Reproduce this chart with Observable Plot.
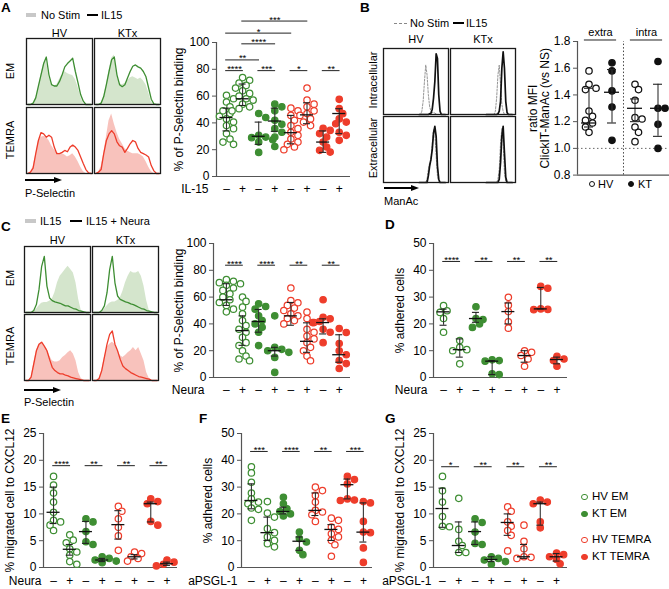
<!DOCTYPE html>
<html><head><meta charset="utf-8">
<script src="https://cdn.jsdelivr.net/npm/d3@7"></script>
<script src="https://cdn.jsdelivr.net/npm/@observablehq/plot@0.6"></script>
<style>
html,body{margin:0;padding:0;background:#fff;}
#fig{position:relative;width:669px;height:589px;overflow:hidden;font-family:"Liberation Sans",Arial,Helvetica,sans-serif;color:#000;background:#fff;}
.t{position:absolute;white-space:nowrap;line-height:1;}
</style></head><body><div id="fig"></div>
<script>
// ---------------- DATA ----------------
// Panel A scatter (% of P-Selectin binding), IL-15 -/+
const aHvEmMinus = [60.6, 58, 55.6, 52, 49, 47, 45, 43, 40.6, 38, 35.7, 32, 28, 25.7, 24];
const aHvEmPlus = [73.8, 71.8, 69.8, 68, 66, 64, 62, 60, 58, 57, 54, 52, 50.6, 49];
const aKtEmMinus = [47, 44, 30.7, 29.4, 29, 27.4, 25.7, 18];
const aKtEmPlus = [54, 52, 49, 42, 39, 35.7, 33, 29.4, 22.4];
const aHvTeMinus = [51, 49, 45.6, 42, 38, 35.7, 33, 30.7, 28, 25.7, 24, 22, 20];
const aHvTePlus = [66, 57, 54, 52, 49, 47, 45.6, 43, 40.6, 38];
const aKtTeMinus = [36, 34.4, 32, 29.4, 25.7, 22, 19.5, 18.2];
const aKtTePlus = [57.6, 50.6, 46.9, 43, 40.6, 39.4, 33, 30.7, 27];
const aCenter = [44, 58, 30, 41.4, 32.7, 46, 25.7, 47];
const aLo = [34, 53, 24, 33.7, 24.4, 39.4, 18, 32];
const aHi = [51, 69, 40.6, 51, 45.6, 55, 34, 50.6];
const aTicks = [0, 20, 40, 60, 80, 100];
const aSigns = ["–", "+", "–", "+", "–", "+", "–", "+"];
const aSigFrom = [0, 2, 4, 6, 0, 1, 0, 1];
const aSigTo = [1, 3, 5, 7, 2, 3, 4, 5];
const aSigStars = ["****", "***", "*", "**", "**", "****", "*", "***"];
const aSigLevel = [79, 79, 79, 79, 87, 99, 107, 116];

// Panel B scatter (ratio MFI)
const bHvExtra = [1.58, 1.48, 1.45, 1.44, 1.28, 1.24, 1.21, 1.19, 1.16, 1.12];
const bKtExtra = [1.64, 1.58, 1.43, 1.31, 1.06];
const bHvIntra = [1.48, 1.44, 1.36, 1.23, 1.22, 1.16, 1.12, 1.05];
const bKtIntra = [1.65, 1.30, 1.30, 1.18, 1.0];
const bCenter = [1.19, 1.42, 1.30, 1.30];
const bLo = [1.16, 1.19, 1.2, 1.09];
const bHi = [1.45, 1.59, 1.37, 1.48];
const bTicks = [0.8, 1.0, 1.2, 1.4, 1.6, 1.8];
const bGroupLabels = ["extra", "intra"];

// Panel C scatter, Neura -/+
const cHvEmIl = [73, 71.8, 70.8, 70, 68.8, 66.8, 65, 62.5, 60, 58, 56, 53.8, 51, 49];
const cHvEmNeu = [60, 56.8, 52.5, 47.5, 42.5, 38.8, 36, 33.8, 30, 26, 23.8, 20, 16, 13.8, 12.5];
const cKtEmIl = [55, 53, 51, 46, 42.5, 40, 37.5, 33.8, 23.8];
const cKtEmNeu = [46, 22.5, 21, 20, 18.8, 15, 3.8];
const cHvTeIl = [66.8, 57.5, 55.8, 53.8, 51.8, 50, 47.5, 46, 44, 42.5, 40];
const cHvTeNeu = [48.8, 44, 41, 36, 33.8, 31, 28.8, 26, 22.5, 20, 16, 12.5];
const cKtTeIl = [58, 45, 43.8, 41.8, 41, 36, 33.8, 26];
const cKtTeNeu = [36.6, 33.6, 25.4, 20, 17, 12.7, 10.4, 6.7];
const cCenter = [58, 35, 41.8, 20, 46, 27, 41, 17];
const cLo = [53.8, 24, 33.8, 16, 39, 18.8, 32.5, 11.4];
const cHi = [70, 46, 50.8, 22.5, 56, 40.8, 43.8, 31.9];
const cSigStars = ["****", "****", "**", "**"];

// Panel D (% adhered cells), Neura -/+
const dHvEmIl = [26.8, 24.9, 24.3, 22, 16.9];
const dHvEmNeu = [13.8, 11.3, 10.4, 10, 5.1];
const dKtEmIl = [26.4, 22, 21.6, 20, 18.7];
const dKtEmNeu = [6.6, 6.3, 6.1, 1.4, 1.1];
const dHvTeIl = [29.9, 27, 24.6, 20.8, 18.4];
const dHvTeNeu = [10, 9.4, 8.2, 6.9, 4.2];
const dKtTeIl = [34, 33.3, 25.6, 25.4, 25.3];
const dKtTeNeu = [7.9, 6.9, 6.3, 4.2];
const dCenter = [24.5, 10.4, 22, 6.1, 24.6, 8.2, 25.6, 6.7];
const dLo = [19.5, 7.6, 20.6, 1.1, 20, 5.7, 25.6, 5.1];
const dHi = [25.5, 14.4, 24.3, 6.3, 27.8, 10, 33.6, 7.6];
const dSigStars = ["****", "**", "**", "**"];

// Panel E (% migrated cell to CXCL12), Neura -/+
const eHvEmMinus = [17, 15.4, 13.9, 12.2, 10.3, 8.8, 8.5, 7.9, 6.9];
const eHvEmPlus = [6.1, 5.1, 4.6, 3.5, 2.9, 2.3, 1.1, 0.6];
const eKtEmMinus = [9.1, 8.5, 6.7, 4.8, 4.3];
const eKtEmPlus = [2, 1.7, 1.4, 1.2, 0.9];
const eHvTeMinus = [11.4, 10.5, 9.1, 7.5, 5.9, 3.2];
const eHvTePlus = [2.9, 2.6, 2, 1.7, 1.2];
const eKtTeMinus = [12.8, 12.3, 11.9, 8.6, 7.9];
const eKtTePlus = [1.4, 1, 0.6, 0.3];
const eCenter = [10.3, 3.4, 6.7, 1.4, 8, 2, 11.9, 0.7];
const eLo = [8.2, 2.3, 4.5, 1.1, 5.3, 1.6, 8.5, 0.4];
const eHi = [15, 4.3, 8.6, 1.7, 10.6, 2.4, 12.2, 1];
const eSigStars = ["****", "**", "**", "**"];

// Panel F (% adhered cells), aPSGL-1 -/+
const fHvEmMinus = [37.6, 35.3, 31.8, 27.8, 25.6, 24.4, 23.8, 22.2, 21.7, 17.6];
const fHvEmPlus = [24.6, 20.3, 18.8, 14.5, 13, 11.4, 10.1, 8.9, 7.7];
const fKtEmMinus = [26.2, 23.8, 21.9, 20.9, 20, 19.2];
const fKtEmPlus = [13.2, 10.8, 9.5, 6.4, 4.8];
const fHvTeMinus = [30, 28.7, 26.9, 24.4, 21.3, 20.7, 19.7, 17.2];
const fHvTePlus = [18.4, 17.6, 15.1, 14.2, 12.6, 11.4, 10.1, 8.5, 4.2];
const fKtTeMinus = [34, 32.8, 31.2, 25.6, 25.2, 25];
const fKtTePlus = [24.6, 24.1, 17.2, 13.2, 13, 7.3, 1.9];
const fCenter = [25, 13, 20.9, 9.8, 21.3, 14.2, 30.9, 13.2];
const fLo = [21.9, 10.1, 20, 6.4, 19.4, 10.1, 25.6, 9.5];
const fHi = [31.2, 18.8, 22.5, 11.4, 27.8, 16, 33, 24.1];
const fSigStars = ["***", "****", "**", "***"];

// Panel G (% migrated cell to CXCL12), aPSGL-1 -/+
const gHvEmMinus = [17, 14.3, 12.2, 9.5, 7.7, 7.6];
const gHvEmPlus = [12.9, 7.1, 4.9, 4.1, 2.8, 2.8];
const gKtEmMinus = [9.1, 8.4, 6.6, 4.5, 4.3];
const gKtEmPlus = [2, 1.7, 1.4, 1.1, 0.6];
const gHvTeMinus = [11.3, 10.5, 8.5, 7.7, 6.9, 6, 3.1];
const gHvTePlus = [7.9, 4.9, 3.5, 2, 1.9, 1.7];
const gKtTeMinus = [12.6, 12.2, 11.9, 8.5, 7.4];
const gKtTePlus = [2.7, 2.4, 2, 1.5, 0.7];
const gCenter = [11, 4.1, 6.7, 1.5, 8.4, 2, 11.9, 2];
const gLo = [7.5, 2.8, 4.3, 1.1, 6, 1.7, 7.9, 1.2];
const gHi = [14.8, 8.5, 8.5, 2, 10, 4.3, 12.2, 2.6];
const gSigStars = ["*", "**", "**", "**"];

const pairFrom = [0, 2, 4, 6];
const pairTo = [1, 3, 5, 7];

// Histograms (relative counts, 25 bins across the box) - panel A
const aHvEmNoStim = [0,0,0.02,0.1,0.25,0.45,0.62,0.67,0.42,0.3,0.28,0.3,0.38,0.45,0.5,0.47,0.45,0.44,0.38,0.27,0.12,0.02,0,0,0];
const aHvEmIL15   = [0,0,0.02,0.1,0.28,0.45,0.62,0.72,0.45,0.3,0.28,0.28,0.35,0.45,0.57,0.62,0.66,0.7,0.5,0.33,0.15,0.05,0,0,0];
const aKtEmNoStim = [0,0,0.02,0.12,0.3,0.5,0.7,0.75,0.45,0.32,0.3,0.32,0.36,0.4,0.42,0.4,0.38,0.4,0.36,0.3,0.18,0.04,0,0,0];
const aKtEmIL15   = [0,0,0.02,0.12,0.3,0.5,0.68,0.72,0.45,0.3,0.27,0.3,0.4,0.5,0.58,0.6,0.57,0.55,0.5,0.42,0.25,0.08,0.01,0,0];
const aHvTeNoStim = [0,0.02,0.1,0.28,0.48,0.55,0.56,0.55,0.5,0.42,0.36,0.32,0.3,0.3,0.28,0.25,0.27,0.3,0.25,0.18,0.1,0.03,0,0,0];
const aHvTeIL15   = [0,0.02,0.08,0.3,0.5,0.62,0.6,0.55,0.58,0.55,0.4,0.3,0.3,0.32,0.35,0.33,0.4,0.43,0.4,0.35,0.25,0.15,0.06,0.01,0];
const aKtTeNoStim = [0,0.02,0.1,0.3,0.55,0.8,0.9,0.75,0.62,0.52,0.45,0.38,0.34,0.32,0.3,0.3,0.3,0.28,0.25,0.18,0.1,0.03,0,0,0];
const aKtTeIL15   = [0,0.02,0.06,0.3,0.5,0.6,0.65,0.6,0.48,0.42,0.4,0.32,0.38,0.45,0.5,0.48,0.38,0.32,0.3,0.28,0.25,0.12,0.04,0,0];
// panel C
const cHvEmIL15  = [0,0,0,0.02,0.05,0.1,0.14,0.15,0.15,0.17,0.2,0.3,0.45,0.55,0.6,0.65,0.7,0.65,0.6,0.45,0.2,0.03,0,0,0];
const cHvEmNeura = [0,0,0,0.03,0.12,0.35,0.7,0.85,0.4,0.22,0.18,0.16,0.15,0.14,0.12,0.1,0.1,0.08,0.06,0.05,0.03,0.02,0.01,0,0];
const cKtEmIL15  = [0,0,0,0.02,0.05,0.1,0.14,0.16,0.16,0.18,0.22,0.32,0.45,0.55,0.62,0.6,0.6,0.62,0.55,0.4,0.18,0.03,0,0,0];
const cKtEmNeura = [0,0,0,0.03,0.1,0.3,0.65,0.85,0.45,0.25,0.2,0.18,0.16,0.15,0.13,0.12,0.1,0.08,0.06,0.05,0.03,0.02,0.01,0,0];
const cHvTeIL15  = [0,0,0.05,0.25,0.45,0.55,0.58,0.52,0.48,0.38,0.3,0.28,0.28,0.3,0.35,0.38,0.42,0.45,0.4,0.3,0.12,0.03,0,0,0];
const cHvTeNeura = [0,0,0.05,0.25,0.45,0.55,0.58,0.52,0.45,0.32,0.2,0.15,0.12,0.1,0.1,0.08,0.07,0.05,0.04,0.03,0.02,0.01,0,0,0];
const cKtTeIL15  = [0,0,0.03,0.15,0.35,0.5,0.55,0.58,0.55,0.45,0.38,0.35,0.38,0.42,0.45,0.5,0.45,0.5,0.4,0.3,0.12,0.03,0,0,0];
const cKtTeNeura = [0,0,0.03,0.15,0.35,0.55,0.7,0.75,0.55,0.45,0.32,0.22,0.18,0.15,0.12,0.1,0.08,0.06,0.05,0.04,0.03,0.02,0,0,0];
// panel B (ManAc), bins from 0.55 to 0.95 of the box
const bBins = [0.55,0.57,0.59,0.61,0.63,0.65,0.67,0.69,0.71,0.73,0.75,0.77,0.79,0.81,0.83,0.85,0.87,0.89,0.91,0.93,0.95];
const bHvIntraNS = [0,0,0.05,0.2,0.5,0.75,0.6,0.3,0.12,0.05,0.03,0.03,0.02,0.01,0,0,0,0,0,0,0];
const bHvIntraIL = [0,0,0,0,0,0,0,0,0.01,0.02,0.08,0.25,0.5,0.92,0.85,0.3,0.05,0,0,0,0];
const bKtIntraNS = [0,0,0,0,0,0,0,0.05,0.25,0.6,0.75,0.45,0.15,0.05,0,0,0,0,0,0,0];
const bKtIntraIL = [0,0,0,0,0,0,0,0,0,0.01,0.05,0.2,0.7,0.95,0.7,0.2,0.03,0,0,0,0];
const bHvExtraNS = [0,0,0,0,0,0,0.05,0.2,0.3,0.33,0.6,0.8,0.75,0.4,0.1,0.02,0,0,0,0,0];
const bHvExtraIL = [0,0,0,0,0,0,0,0.1,0.25,0.35,0.5,0.75,0.85,0.7,0.25,0.05,0,0,0,0,0];
const bKtExtraNS = [0,0,0,0,0,0,0,0,0,0.05,0.2,0.6,0.82,0.6,0.15,0.02,0,0,0,0,0];
const bKtExtraIL = [0,0,0,0,0,0,0,0,0,0,0.05,0.3,0.7,0.85,0.45,0.08,0,0,0,0,0];

// ---------------- STYLE ----------------
const FONT = '"Liberation Sans", Arial, Helvetica, sans-serif';
const GREEN = "#3e8e33", RED = "#ee3d2b", GREEN_FILL = "#d4e5cc", RED_FILL = "#f8c2bc", AX = "#555";
const colors8 = [GREEN, GREEN, GREEN, GREEN, RED, RED, RED, RED];
const filled8 = [false, false, true, true, false, false, true, true];
const bins25 = d3.range(25).map(k => (k + 0.5) / 25);

const fig = document.getElementById("fig");
function put(el, left, top) { el.style.position = "absolute"; el.style.left = left + "px"; el.style.top = top + "px"; fig.appendChild(el); return el; }
function txt(s, x, y, size = 11, weight = 400, align = "left") {
  const d = document.createElement("div"); d.className = "t"; d.textContent = s;
  d.style.fontSize = size + "px"; d.style.fontWeight = weight;
  const tx = align === "center" ? "-50%" : align === "right" ? "-100%" : "0";
  d.style.transform = `translate(${tx},-50%)`;
  return put(d, x, y);
}
function vtxt(s, cx, cy, size = 11) {
  const d = document.createElement("div"); d.className = "t"; d.textContent = s;
  d.style.fontSize = size + "px";
  d.style.transform = "translate(-50%,-50%) rotate(-90deg)";
  return put(d, cx, cy);
}
function box(x, y, w, h, css) { const d = document.createElement("div"); Object.assign(d.style, css); d.style.width = w + "px"; d.style.height = h + "px"; return put(d, x, y); }
function arrow(x0, x1, y) {
  box(x0, y - 0.75, x1 - x0 - 6, 1.5, {background: "#000"});
  const t = document.createElement("div");
  Object.assign(t.style, {width: "0", height: "0", borderTop: "3.5px solid transparent", borderBottom: "3.5px solid transparent", borderLeft: "8px solid #000"});
  put(t, x1 - 8, y - 3.5);
}
function circ(cx, cy, r, color, filled) { box(cx - r, cy - r, 2 * r, 2 * r, {borderRadius: "50%", border: `1.3px solid ${color}`, background: filled ? color : "#fff", boxSizing: "border-box"}); }

// ---------------- SCATTER PANELS ----------------
function scatter(o) {
  const mL = 62, mT = 48, mR = o.mR ?? 3, mB = 26;
  const W = o.x1 - o.x0 + mL + mR, H = o.yB - o.yT + mT + mB;
  const [d0, d1] = o.yDomain;
  const pyu = (o.yB - o.yT) / (d1 - d0);
  const pxc = (o.x1 - o.x0) / (o.xDomain[1] - o.xDomain[0]);
  const R = o.r ?? 3.2;
  const dots = [];
  o.groups.forEach((vals, i) => {
    const placed = [];
    vals.forEach(v => {
      const py = v * pyu;
      let off = 0;
      for (const c of [0, 1, -1, 2, -2, 3, -3, 4, -4]) {
        const px = c * R * 1.1;
        if (placed.every(p => Math.hypot(p[0] - px, p[1] - py) >= R * 1.7)) { off = px; break; }
      }
      placed.push([off, py]);
      dots.push({x: i + off / pxc, y: v, stroke: o.colors[i], fill: o.filled[i] ? o.colors[i] : "white"});
    });
  });
  const stats = o.center.map((c, i) => ({i, c, lo: o.lo[i], hi: o.hi[i]}));
  const hw = (o.meanHalf ?? 6.5) / pxc, cw = (o.capHalf ?? 3.5) / pxc;
  const sig = (o.sigFrom || []).map((a, k) => ({a, b: o.sigTo[k], s: o.sigStars[k], y: o.sigLevel[k]}));
  const idx = o.groups.map((_, i) => i);
  const marks = [
    ...(o.extra || []),
    Plot.ruleY([d0], {stroke: AX, strokeWidth: 1.2}),
    Plot.ruleX([o.xDomain[0]], {y1: d0, y2: d1, stroke: AX, strokeWidth: 1.2}),
    Plot.axisY({ticks: o.yTicks, tickSize: 4, tickPadding: 3, fontSize: 12, tickFormat: o.tickFormat, stroke: AX,
      label: o.yLabel, labelAnchor: "center", labelOffset: o.labelOffset, labelArrow: "none"}),
    Plot.axisX({ticks: idx, tickFormat: i => o.signs[i], tickSize: 0, tickPadding: o.signPad ?? 8, fontSize: 12, label: null}),
    Plot.text([o.signLabel], {text: d => d, frameAnchor: "bottom-left", textAnchor: "end", lineAnchor: "top", dx: o.signDx, dy: o.signPad ?? 8, fontSize: 12}),
    Plot.dot(dots, {x: "x", y: "y", r: R, stroke: "stroke", fill: "fill", strokeWidth: 1.25}),
    Plot.ruleX(stats, {x: "i", y1: "lo", y2: "hi", stroke: "#333", strokeWidth: 1.1}),
    Plot.ruleY(stats, {y: "lo", x1: d => d.i - cw, x2: d => d.i + cw, stroke: "#222", strokeWidth: 1.1}),
    Plot.ruleY(stats, {y: "hi", x1: d => d.i - cw, x2: d => d.i + cw, stroke: "#222", strokeWidth: 1.1}),
    Plot.ruleY(stats, {y: "c", x1: d => d.i - hw, x2: d => d.i + hw, stroke: "#111", strokeWidth: 1.3}),
    Plot.ruleY(sig, {y: "y", x1: d => d.a - 0.05, x2: d => d.b + 0.05, stroke: "#222", strokeWidth: 1}),
    Plot.text(sig, {x: d => (d.a + d.b) / 2, y: "y", text: "s", fontSize: 9.5, lineAnchor: "bottom", dy: 1.5})
  ];
  const svg = Plot.plot({
    width: W, height: H, marginLeft: mL, marginTop: mT, marginRight: mR, marginBottom: mB,
    x: {domain: o.xDomain, axis: null}, y: {domain: o.yDomain, axis: null},
    color: {type: "identity"},
    style: {background: "transparent", fontFamily: FONT, color: "#000", overflow: "visible", maxWidth: "none"},
    marks
  });
  put(svg, o.x0 - mL, o.yT - mT);
}

const eight = (a, b, c, d, e, f, g, h) => [a, b, c, d, e, f, g, h];

scatter({x0: 216, x1: 350, yT: 42, yB: 176, xDomain: [-0.62, 7.7], yDomain: [0, 100], yTicks: aTicks,
  yLabel: "% of P-Selectin binding", labelOffset: 42, signs: aSigns, signLabel: "IL-15", signDx: -8,
  groups: eight(aHvEmMinus, aHvEmPlus, aKtEmMinus, aKtEmPlus, aHvTeMinus, aHvTePlus, aKtTeMinus, aKtTePlus),
  center: aCenter, lo: aLo, hi: aHi, colors: colors8, filled: filled8,
  sigFrom: aSigFrom, sigTo: aSigTo, sigStars: aSigStars, sigLevel: aSigLevel});

scatter({x0: 213, x1: 350, yT: 243, yB: 377, xDomain: [-0.8, 7.7], yDomain: [0, 100], yTicks: aTicks,
  yLabel: "% of P-Selectin binding", labelOffset: 39, signs: aSigns, signLabel: "Neura", signDx: -9,
  groups: eight(cHvEmIl, cHvEmNeu, cKtEmIl, cKtEmNeu, cHvTeIl, cHvTeNeu, cKtTeIl, cKtTeNeu),
  center: cCenter, lo: cLo, hi: cHi, colors: colors8, filled: filled8,
  sigFrom: pairFrom, sigTo: pairTo, sigStars: cSigStars, sigLevel: pairFrom.map(() => 83.8)});

scatter({x0: 433, x1: 567, yT: 243, yB: 377, xDomain: [-0.62, 7.65], yDomain: [0, 50], yTicks: [0, 10, 20, 30, 40, 50],
  yLabel: "% adhered cells", labelOffset: 38, signs: aSigns, signLabel: "Neura", signDx: -6,
  groups: eight(dHvEmIl, dHvEmNeu, dKtEmIl, dKtEmNeu, dHvTeIl, dHvTeNeu, dKtTeIl, dKtTeNeu),
  center: dCenter, lo: dLo, hi: dHi, colors: colors8, filled: filled8,
  sigFrom: pairFrom, sigTo: pairTo, sigStars: dSigStars, sigLevel: pairFrom.map(() => 43.3)});

scatter({x0: 43, x1: 177, yT: 433, yB: 567, xDomain: [-0.62, 7.65], yDomain: [0, 25], yTicks: [0, 5, 10, 15, 20, 25],
  yLabel: "% migrated cell to CXCL12", labelOffset: 38, signs: aSigns, signLabel: "Neura", signDx: -2, signPad: 9,
  groups: eight(eHvEmMinus, eHvEmPlus, eKtEmMinus, eKtEmPlus, eHvTeMinus, eHvTePlus, eKtTeMinus, eKtTePlus),
  center: eCenter, lo: eLo, hi: eHi, colors: colors8, filled: filled8,
  sigFrom: pairFrom, sigTo: pairTo, sigStars: eSigStars, sigLevel: pairFrom.map(() => 19)});

scatter({x0: 241, x1: 372, yT: 433, yB: 567, xDomain: [-0.62, 7.57], yDomain: [0, 50], yTicks: [0, 10, 20, 30, 40, 50],
  yLabel: "% adhered cells", labelOffset: 38, signs: aSigns, signLabel: "aPSGL-1", signDx: -4, signPad: 9,
  groups: eight(fHvEmMinus, fHvEmPlus, fKtEmMinus, fKtEmPlus, fHvTeMinus, fHvTePlus, fKtTeMinus, fKtTePlus),
  center: fCenter, lo: fLo, hi: fHi, colors: colors8, filled: filled8,
  sigFrom: pairFrom, sigTo: pairTo, sigStars: fSigStars, sigLevel: pairFrom.map(() => 43.3)});

scatter({x0: 433, x1: 567, yT: 433, yB: 567, xDomain: [-0.55, 7.67], yDomain: [0, 25], yTicks: [0, 5, 10, 15, 20, 25],
  yLabel: "% migrated cell to CXCL12", labelOffset: 38, signs: aSigns, signLabel: "aPSGL-1", signDx: -2, signPad: 9,
  groups: eight(gHvEmMinus, gHvEmPlus, gKtEmMinus, gKtEmPlus, gHvTeMinus, gHvTePlus, gKtTeMinus, gKtTePlus),
  center: gCenter, lo: gLo, hi: gHi, colors: colors8, filled: filled8,
  sigFrom: pairFrom, sigTo: pairTo, sigStars: gSigStars, sigLevel: pairFrom.map(() => 18.8)});

// Panel B scatter
scatter({x0: 577, x1: 669, mR: 0, yT: 40.7, yB: 174.3, xDomain: [-0.5, 3.5], yDomain: [0.8, 1.8], yTicks: bTicks, tickFormat: d3.format(".1f"),
  yLabel: "ratio MFI\nClickIT-ManAc (vs NS)", labelOffset: 49, signs: ["", "", "", ""], signLabel: "", signDx: 0,
  groups: [bHvExtra, bKtExtra, bHvIntra, bKtIntra], center: bCenter, lo: bLo, hi: bHi,
  colors: ["#111", "#111", "#111", "#111"], filled: [false, true, false, true], meanHalf: 7.5, capHalf: 4.5,
  extra: [
    Plot.ruleY([1.0], {stroke: "#666", strokeDasharray: "1.5,2.5", strokeWidth: 1}),
    Plot.ruleX([1.5], {y1: 0.8, y2: 1.8, stroke: "#444", strokeDasharray: "1.5,2", strokeWidth: 1}),
    Plot.ruleY(bGroupLabels, {y: () => 1.8, dy: -1.5, x1: (d, i) => i * 2 + 0.5 - 0.7, x2: (d, i) => i * 2 + 0.5 + 0.7, stroke: "#222", strokeWidth: 1}),
    Plot.text(bGroupLabels, {x: (d, i) => i * 2 + 0.5, y: () => 1.8, dy: -9.5, text: d => d, fontSize: 11})
  ]});

// ---------------- HISTOGRAM PANELS ----------------
function hist(o) {
  const mL = 2, mT = 20, mR = 1, mB = 1;
  const W = o.x1 - o.x0 + mL + mR, H = o.y1 - o.y0 + mT + mB;
  const rows = (arr, col, row, xs) => arr.map((v, k) => ({col, row, x: xs[k], v}));
  const mk = list => (list || []).flatMap(f => rows(f.v, f.col, f.row, f.xs).map(d => ({...d, color: f.color, key: f.col + f.row})));
  const fills = mk(o.fills), lines = mk(o.lines), dashed = mk(o.dashed);
  const svg = Plot.plot({
    width: W, height: H, marginLeft: mL, marginTop: mT, marginRight: mR, marginBottom: mB,
    fx: {domain: o.cols, paddingInner: o.padX, paddingOuter: 0, axis: null},
    fy: {domain: o.rows, paddingInner: o.padY, paddingOuter: 0, axis: null},
    x: {domain: [0, 1], axis: null}, y: {domain: [0, 1], axis: null},
    color: {type: "identity"},
    style: {background: "transparent", fontFamily: FONT, color: "#000", overflow: "visible", maxWidth: "none"},
    marks: [
      Plot.areaY(fills, {x: "x", y: "v", fx: "col", fy: "row", fill: "color", z: "key"}),
      Plot.lineY(dashed, {x: "x", y: "v", fx: "col", fy: "row", stroke: "color", z: "key", strokeWidth: 0.9, strokeDasharray: "2,1.5"}),
      Plot.lineY(lines, {x: "x", y: "v", fx: "col", fy: "row", stroke: "color", z: "key", strokeWidth: o.lineWidth ?? 1.3}),
      Plot.frame({stroke: "#1a1a1a", strokeWidth: 1.3}),
      Plot.text(o.cols, {fx: d => d, fy: () => o.rows[0], text: d => d, frameAnchor: "top", lineAnchor: "bottom", dy: o.colDy, fontSize: 11})
    ]
  });
  put(svg, o.x0 - mL, o.y0 - mT);
}
const HVKT = ["HV", "KTx"], EMTE = ["EM", "TEMRA"];
hist({x0: 25, x1: 160, y0: 38, y1: 174, cols: HVKT, rows: EMTE, padX: 0.03, padY: 0.04, colDy: -2,
  fills: [
    {col: "HV", row: "EM", v: aHvEmNoStim, xs: bins25, color: GREEN_FILL},
    {col: "KTx", row: "EM", v: aKtEmNoStim, xs: bins25, color: GREEN_FILL},
    {col: "HV", row: "TEMRA", v: aHvTeNoStim, xs: bins25, color: RED_FILL},
    {col: "KTx", row: "TEMRA", v: aKtTeNoStim, xs: bins25, color: RED_FILL}],
  lines: [
    {col: "HV", row: "EM", v: aHvEmIL15, xs: bins25, color: GREEN},
    {col: "KTx", row: "EM", v: aKtEmIL15, xs: bins25, color: GREEN},
    {col: "HV", row: "TEMRA", v: aHvTeIL15, xs: bins25, color: RED},
    {col: "KTx", row: "TEMRA", v: aKtTeIL15, xs: bins25, color: RED}]});

hist({x0: 23, x1: 158, y0: 245, y1: 380, cols: HVKT, rows: EMTE, padX: 0.03, padY: 0.03, colDy: -3,
  fills: [
    {col: "HV", row: "EM", v: cHvEmIL15, xs: bins25, color: GREEN_FILL},
    {col: "KTx", row: "EM", v: cKtEmIL15, xs: bins25, color: GREEN_FILL},
    {col: "HV", row: "TEMRA", v: cHvTeIL15, xs: bins25, color: RED_FILL},
    {col: "KTx", row: "TEMRA", v: cKtTeIL15, xs: bins25, color: RED_FILL}],
  lines: [
    {col: "HV", row: "EM", v: cHvEmNeura, xs: bins25, color: GREEN},
    {col: "KTx", row: "EM", v: cKtEmNeura, xs: bins25, color: GREEN},
    {col: "HV", row: "TEMRA", v: cHvTeNeura, xs: bins25, color: RED},
    {col: "KTx", row: "TEMRA", v: cKtTeNeura, xs: bins25, color: RED}]});

const ROWS_B = ["Intracellular", "Extracellular"];
hist({x0: 383, x1: 515, y0: 47, y1: 182, cols: HVKT, rows: ROWS_B, padX: 0.03, padY: 0.03, colDy: -6, lineWidth: 1.7,
  fills: [],
  dashed: [
    {col: "HV", row: "Intracellular", v: bHvIntraNS, xs: bBins, color: "#8a8a8a"},
    {col: "KTx", row: "Intracellular", v: bKtIntraNS, xs: bBins, color: "#8a8a8a"},
    {col: "HV", row: "Extracellular", v: bHvExtraNS, xs: bBins, color: "#8a8a8a"},
    {col: "KTx", row: "Extracellular", v: bKtExtraNS, xs: bBins, color: "#8a8a8a"}],
  lines: [
    {col: "HV", row: "Intracellular", v: bHvIntraIL, xs: bBins, color: "#111"},
    {col: "KTx", row: "Intracellular", v: bKtIntraIL, xs: bBins, color: "#111"},
    {col: "HV", row: "Extracellular", v: bHvExtraIL, xs: bBins, color: "#111"},
    {col: "KTx", row: "Extracellular", v: bKtExtraIL, xs: bBins, color: "#111"}]});

// histogram row labels
vtxt(EMTE[0], 10, 71); vtxt(EMTE[1], 10, 140);
vtxt(EMTE[0], 10, 278); vtxt(EMTE[1], 10, 346);
vtxt(ROWS_B[0], 373, 80); vtxt(ROWS_B[1], 373, 148);

// ---------------- LABELS, LEGENDS ----------------
txt("A", 1, 8, 13.5, 700); txt("B", 360, 8, 13.5, 700); txt("C", 1, 227, 13.5, 700);
txt("D", 385, 225, 13.5, 700); txt("E", 1, 419, 13.5, 700); txt("F", 199, 419, 13.5, 700); txt("G", 385, 419, 13.5, 700);

// A legend
box(26, 13, 10, 4, {background: "#c8c8c8"}); txt("No Stim", 41, 15, 11);
box(87, 14.25, 11, 1.5, {background: "#000"}); txt("IL15", 101, 15, 11);
// B legend
box(394, 22.5, 13, 0, {borderTop: "1px dashed #888"}); txt("No Stim", 410, 23, 11);
box(453, 22.25, 11, 1.5, {background: "#000"}); txt("IL15", 466, 23, 11);
// C legend
box(25, 219, 11, 4, {background: "#c8c8c8"}); txt("IL15", 40, 221, 11);
box(70, 220.25, 12, 1.5, {background: "#000"}); txt("IL15 + Neura", 86, 221, 11);

// arrows
arrow(25, 62, 180); txt("P-Selectin", 25, 193, 11);
arrow(384, 419, 188); txt("ManAc", 384, 201, 11);
arrow(24, 61, 390); txt("P-Selectin", 24, 402, 11);

// B bottom legend
circ(591.5, 184, 3, "#111", false); txt("HV", 598, 184, 11);
circ(631, 184, 3, "#111", true); txt("KT", 638, 184, 11);

// G legend
const legendLabels = ["HV EM", "KT EM", "HV TEMRA", "KT TEMRA"];
const legendY = [497, 514, 540, 557];
legendLabels.forEach((s, i) => { circ(584.5, legendY[i], 3.2, colors8[i * 2], filled8[i * 2]); txt(s, 592, legendY[i], 11.5); });
</script></body></html>
